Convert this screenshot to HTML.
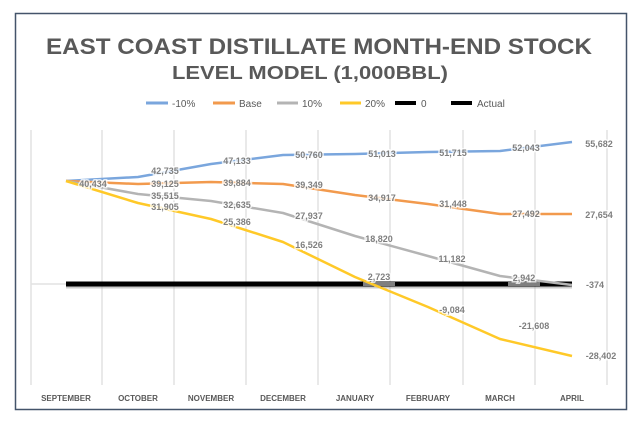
<!DOCTYPE html>
<html><head><style>body{margin:0;background:#fff}svg{display:block}.lb text{paint-order:stroke;stroke:#fff;stroke-width:3;stroke-opacity:0.75}</style></head><body>
<svg width="643" height="427" viewBox="0 0 643 427" xmlns="http://www.w3.org/2000/svg" font-family="Liberation Sans, sans-serif">
<rect x="0" y="0" width="643" height="427" fill="#fff"/>
<rect x="15.5" y="13.5" width="611" height="396" fill="none" stroke="#44546a" stroke-width="1.5"/>
<text x="319" y="54" text-anchor="middle" font-size="22" font-weight="bold" fill="#595959" textLength="546" lengthAdjust="spacingAndGlyphs">EAST COAST DISTILLATE MONTH-END STOCK</text>
<text x="310" y="79" text-anchor="middle" font-size="18" font-weight="bold" fill="#595959" textLength="276" lengthAdjust="spacingAndGlyphs">LEVEL MODEL (1,000BBL)</text>
<g font-size="10" fill="#595959">
<line x1="146" y1="103" x2="168" y2="103" stroke="#7aa6dd" stroke-width="3"/><text x="172" y="107">-10%</text>
<line x1="213" y1="103" x2="235" y2="103" stroke="#f29a4d" stroke-width="3"/><text x="239" y="107">Base</text>
<line x1="277" y1="103" x2="298" y2="103" stroke="#b4b4b4" stroke-width="3"/><text x="302" y="107">10%</text>
<line x1="340" y1="103" x2="361" y2="103" stroke="#ffc928" stroke-width="3"/><text x="365" y="107">20%</text>
<line x1="395" y1="103" x2="416" y2="103" stroke="#000" stroke-width="4"/><text x="421" y="107">0</text>
<line x1="451" y1="103" x2="472" y2="103" stroke="#000" stroke-width="4"/><text x="477" y="107">Actual</text>
</g>
<g stroke="#e2e2e2" stroke-width="1.5">
<line x1="31" y1="130" x2="31" y2="385"/><line x1="102" y1="130" x2="102" y2="385"/><line x1="174" y1="130" x2="174" y2="385"/><line x1="246" y1="130" x2="246" y2="385"/><line x1="318" y1="130" x2="318" y2="385"/><line x1="390" y1="130" x2="390" y2="385"/><line x1="463" y1="130" x2="463" y2="385"/><line x1="535" y1="130" x2="535" y2="385"/><line x1="607" y1="130" x2="607" y2="385"/>
<line x1="31" y1="284" x2="66" y2="284"/>
</g>
<line x1="66" y1="286" x2="572" y2="286" stroke="#999" stroke-width="5" opacity="0.5"/>
<line x1="66" y1="284" x2="572" y2="284" stroke="#000" stroke-width="5"/>
<rect x="363" y="282" width="32" height="4" fill="#7f7f7f"/>
<rect x="508" y="282" width="32" height="4" fill="#7f7f7f"/>
<g fill="none" stroke-width="2.5" stroke-linejoin="round">
<polyline stroke="#7aa6dd" points="66,181 138,177 211,164 283,155 355,154 428,152 500,151 572,142"/>
<polyline stroke="#f29a4d" points="66,181 138,184 211,182 283,184 355,195 428,204 500,214 572,214"/>
<polyline stroke="#b4b4b4" points="66,181 138,194 211,201 283,213 355,236 428,256 500,276 572,285"/>
<polyline stroke="#ffc928" points="66,181 138,203 211,219 283,242 355,277 428,307 500,339 572,356"/>
</g>
<g class="lb" font-size="9" font-weight="bold" fill="#7f7f7f" text-anchor="middle">
<text x="93" y="187">40,434</text>
<text x="165" y="174">42,735</text><text x="237" y="164">47,133</text><text x="309" y="158">50,760</text>
<text x="165" y="187">39,125</text><text x="237" y="186">39,884</text><text x="309" y="188">39,349</text>
<text x="165" y="199">35,515</text><text x="237" y="208">32,635</text><text x="309" y="219">27,937</text>
<text x="165" y="210">31,905</text><text x="237" y="225">25,386</text><text x="309" y="248">16,526</text>
<text x="382" y="157">51,013</text><text x="453" y="156">51,715</text><text x="526" y="151">52,043</text><text x="599" y="147">55,682</text>
<text x="382" y="201">34,917</text><text x="453" y="207">31,448</text><text x="526" y="217">27,492</text><text x="599" y="218">27,654</text>
<text x="379" y="242">18,820</text><text x="452" y="262">11,182</text><text x="524" y="281">2,942</text><text x="595" y="288">-374</text>
<text x="379" y="280">2,723</text><text x="452" y="313">-9,084</text><text x="534" y="329">-21,608</text><text x="601" y="359">-28,402</text>
</g>
<g font-size="8" font-weight="bold" fill="#595959" text-anchor="middle">
<text x="66" y="401">SEPTEMBER</text><text x="138" y="401">OCTOBER</text><text x="211" y="401">NOVEMBER</text><text x="283" y="401">DECEMBER</text>
<text x="355" y="401">JANUARY</text><text x="428" y="401">FEBRUARY</text><text x="500" y="401">MARCH</text><text x="572" y="401">APRIL</text>
</g>
</svg>
</body></html>
